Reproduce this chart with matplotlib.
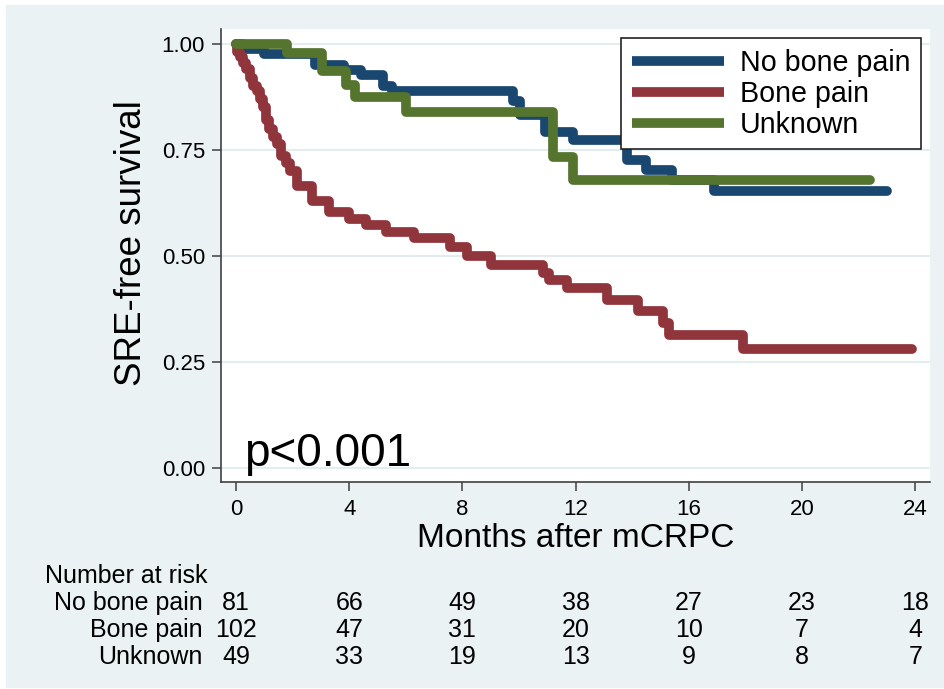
import matplotlib
matplotlib.use("Agg")
import matplotlib.pyplot as plt
from matplotlib import font_manager
from matplotlib.lines import Line2D
from matplotlib.patches import Rectangle
import matplotlib.transforms as mtransforms

# ========= data =========
nobone_t = [0, 0.25, 1.0, 2.8, 3.8, 4.4, 5.2, 5.5, 9.8, 10.05, 10.9, 11.9, 13.8, 14.5, 15.4, 16.9, 23.0]
nobone_s = [1.0, 0.988, 0.975, 0.951, 0.938, 0.926, 0.901, 0.889, 0.866, 0.833, 0.793, 0.774, 0.726, 0.703, 0.679, 0.652, 0.652]

bone_t = [0, 0.05, 0.15, 0.25, 0.35, 0.5, 0.6, 0.75, 0.85, 0.95, 1.05, 1.15, 1.3, 1.45, 1.6, 1.75,
          1.9, 2.15, 2.7, 3.3, 4.0, 4.6, 5.3, 6.3, 7.55, 8.15, 9.0, 10.85, 11.05, 11.7, 13.1,
          14.2, 15.1, 15.3, 17.9, 23.9]
bone_s = [1.0, 0.98, 0.97, 0.955, 0.94, 0.92, 0.90, 0.89, 0.87, 0.85, 0.82, 0.80, 0.78, 0.765, 0.735, 0.72,
          0.70, 0.666, 0.630, 0.603, 0.587, 0.572, 0.557, 0.543, 0.522, 0.500, 0.479, 0.46, 0.443, 0.424, 0.397,
          0.370, 0.342, 0.313, 0.281, 0.281]

unknown_t = [0, 1.8, 3.05, 3.9, 4.2, 6.0, 11.2, 11.9, 22.4]
unknown_s = [1.0, 0.979, 0.935, 0.903, 0.875, 0.84, 0.734, 0.679, 0.679]

groups = ["No bone pain", "Bone pain", "Unknown"]
colors = ["#1a476f", "#90353b", "#55752f"]

risk_times = [0, 4, 8, 12, 16, 20, 24]
risk_nobone = [81, 66, 49, 38, 27, 23, 18]
risk_bone = [102, 47, 31, 20, 10, 7, 4]
risk_unknown = [49, 33, 19, 13, 9, 8, 7]

BG = "#eaf2f3"
FONT = ["Liberation Sans", "DejaVu Sans"]
plt.rcParams["font.family"] = FONT

# narrow font for the risk table if it is there
installed = {f.name for f in font_manager.fontManager.ttflist}
if "Liberation Sans Narrow" in installed:
    table_font = dict(family=["Liberation Sans Narrow", "DejaVu Sans"], fontsize=19)
else:
    table_font = dict(family=FONT, fontsize=18)

LW = 7.0

fig = plt.figure(figsize=(9.45, 6.89), dpi=100, facecolor="white")
fig.patches.append(Rectangle((6 / 945, 2 / 689), 1 - 6 / 945, 1 - 7 / 689,
                             transform=fig.transFigure, color=BG, zorder=-1))

ax = fig.add_axes([221 / 945, 1 - 482 / 689, (930 - 221) / 945, (482 - 29) / 689])
ax.set_facecolor("white")

curves = [(nobone_t, nobone_s), (bone_t, bone_s), (unknown_t, unknown_s)]
for (t, s), c in zip(curves, colors):
    ax.step(t, s, where="post", color=c, lw=LW,
            solid_capstyle="round", solid_joinstyle="round", zorder=3)

ax.set_xlim(-0.53, 24.52)
ax.set_ylim(-0.033, 1.035)
ax.set_xticks(risk_times)
ax.set_yticks([0, 0.25, 0.5, 0.75, 1.0])
ax.set_yticklabels([f"{v:.2f}" for v in [0, 0.25, 0.5, 0.75, 1.0]])
ax.grid(axis="y", color="#e4eded", lw=1.6, zorder=0)
ax.set_axisbelow(True)

for side in ["top", "right"]:
    ax.spines[side].set_visible(False)
for side in ["left", "bottom"]:
    ax.spines[side].set_color("#404040")
    ax.spines[side].set_linewidth(1.2)
ax.tick_params(axis="both", direction="out", length=6.5, width=1.1, color="#404040",
               labelsize=16, labelcolor="black")
ax.tick_params(axis="y", pad=5)
ax.tick_params(axis="x", pad=6)

ax.set_xlabel("Months after mCRPC", fontsize=24, labelpad=2)
ax.set_ylabel("SRE-free survival", fontsize=26.5)
ax.yaxis.set_label_coords(-0.101, 0.528)

ax.text(0.3, 0.005, "p<0.001", fontsize=33, ha="left", va="baseline")

handles = [Line2D([0], [0], color=c, lw=LW, solid_capstyle="butt") for c in colors]
leg = ax.legend(handles, groups, loc="upper right", bbox_to_anchor=(921 / 945, 1 - 38 / 689),
                bbox_transform=fig.transFigure, borderaxespad=0, fontsize=20.6,
                handlelength=3.2, handletextpad=0.55, labelspacing=0.1, borderpad=0.38,
                fancybox=False, framealpha=1, edgecolor="#222222")
leg.get_frame().set_linewidth(1.2)

# number at risk table
trans = mtransforms.blended_transform_factory(ax.transData, fig.transFigure)
fig.text(45 / 945, 1 - 576 / 689, "Number at risk", ha="left", va="center", **table_font)
rows = [risk_nobone, risk_bone, risk_unknown]
row_y = [603, 630, 657]
for name, vals, yy in zip(groups, rows, row_y):
    fig.text(203 / 945, 1 - yy / 689, name, ha="right", va="center", **table_font)
    for tt, v in zip(risk_times, vals):
        ax.text(tt, 1 - yy / 689, str(v), transform=trans, ha="center", va="center",
                clip_on=False, **table_font)

fig.savefig("out.png", dpi=100, facecolor=fig.get_facecolor())
